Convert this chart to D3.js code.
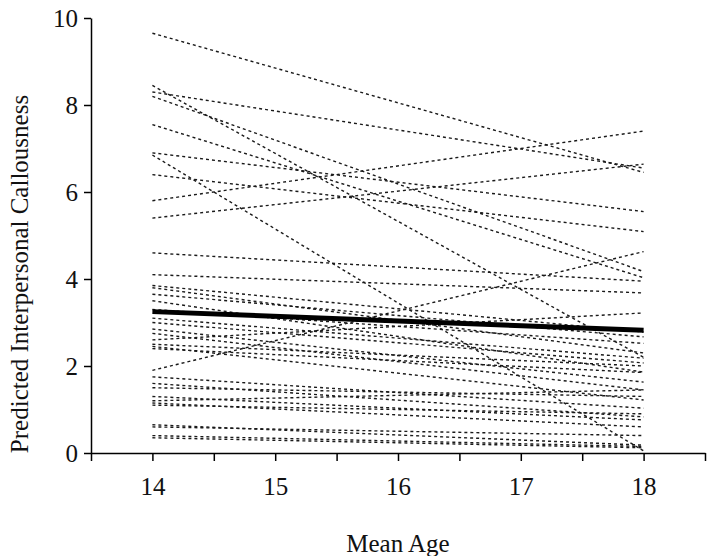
<!DOCTYPE html>
<html>
<head>
<meta charset="utf-8">
<script src="https://cdn.jsdelivr.net/npm/d3@7"></script>
<style>
  body { margin: 0; background: #fff; }
  svg { display: block; }
  text { font-family: 'Liberation Serif', 'Times New Roman', serif; }
</style>
</head>
<body>
<script>
(function () {
  'use strict'

  // ages at which the trajectories are evaluated
  var ages = [14, 18]
  var xTicks = [13.5, 14, 14.5, 15, 15.5, 16, 16.5, 17, 17.5, 18, 18.5]
  var yTicks = [0, 2, 4, 6, 8, 10]

  // individual predicted trajectories: [value at 14, value at 18]
  var individuals = [
    [9.65, 6.45], [8.45, 2.2], [8.3, 6.55], [8.2, 4.17], [7.55, 4.03],
    [6.9, 5.55], [6.85, 0.05], [6.4, 5.09], [5.8, 7.4], [5.4, 6.64],
    [4.6, 3.95], [4.1, 3.68], [1.9, 4.63], [2.6, 3.22],
    [3.85, 2.78], [3.8, 2.3], [3.65, 2.67], [3.5, 1.86], [3.3, 2.52],
    [3.1, 2.18], [3.0, 2.07], [2.85, 1.63], [2.75, 1.45], [2.5, 2.0],
    [2.45, 1.22], [2.4, 1.85], [1.75, 1.03], [1.6, 0.83], [1.5, 1.3],
    [1.3, 0.76], [1.2, 1.45], [1.15, 0.6], [1.1, 0.9], [0.65, 0.18],
    [0.6, 0.4], [0.4, 0.15], [0.35, 0.12]
  ]

  // mean trajectory
  var average = [3.25, 2.82]

  var w = 714
  var h = 556

  var x = d3.scaleLinear().domain([13.5, 18.5]).range([91, 705])
  var y = d3.scaleLinear().domain([0, 10]).range([453, 18])

  var svg = d3.select('body').append('svg')
    .attr('width', w)
    .attr('height', h)

  var line = d3.line()
    .x(function (d, i) { return x(ages[i]) })
    .y(function (d) { return y(d) })

  svg.append('g')
    .selectAll('path')
    .data(individuals)
    .enter().append('path')
      .attr('d', line)
      .attr('fill', 'none')
      .attr('stroke', '#1a1a1a')
      .attr('stroke-width', 1.4)
      .attr('stroke-dasharray', '3,3')

  svg.append('path')
    .datum(average)
    .attr('d', line)
    .attr('fill', 'none')
    .attr('stroke', '#000')
    .attr('stroke-width', 5)

  // axes
  var xAxis = svg.append('g')
    .attr('transform', 'translate(0,' + y(0) + ')')
    .call(d3.axisBottom(x)
      .tickValues(xTicks)
      .tickSize(8)
      .tickSizeOuter(0)
      .tickPadding(16)
      .tickFormat(function (d) { return Number.isInteger(d) ? d : '' }))

  var yAxis = svg.append('g')
    .attr('transform', 'translate(' + x(13.5) + ',0)')
    .call(d3.axisLeft(y)
      .tickValues(yTicks)
      .tickSize(7)
      .tickSizeOuter(0)
      .tickPadding(6))

  ;[xAxis, yAxis].forEach(function (a) {
    a.select('.domain').attr('stroke', '#000').attr('stroke-width', 1.5)
    a.selectAll('.tick line').attr('stroke', '#000').attr('stroke-width', 1.5)
    a.selectAll('.tick text')
      .attr('font-size', 25)
      .attr('fill', '#111')
  })

  svg.append('text')
    .attr('x', 398)
    .attr('y', 552)
    .attr('text-anchor', 'middle')
    .attr('font-size', 25)
    .attr('fill', '#111')
    .text('Mean Age')

  svg.append('text')
    .attr('transform', 'translate(28,274) rotate(-90)')
    .attr('text-anchor', 'middle')
    .attr('font-size', 25)
    .attr('fill', '#111')
    .text('Predicted Interpersonal Callousness')
}())
</script>
</body>
</html>
